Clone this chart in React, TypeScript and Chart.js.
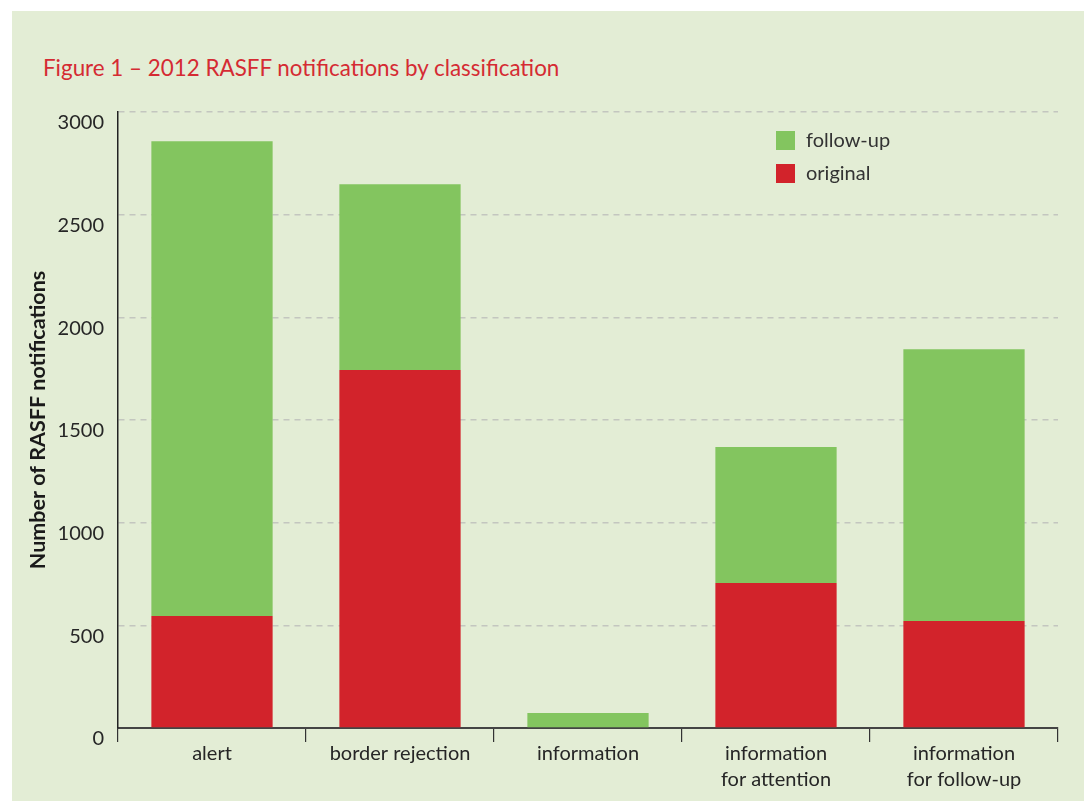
import React, { useEffect, useRef } from "react";
import { Chart, registerables } from "chart.js";

Chart.register(...registerables);

const titleText = "Figure 1 – 2012 RASFF notifications by classification";
const yAxisTitle = "Number of RASFF notifications";
const categories: (string | string[])[] = [
  "alert",
  "border rejection",
  "information",
  ["information", "for attention"],
  ["information", "for follow-up"],
];
const originalValues = [545, 1743, 0, 706, 521];
const followUpValues = [2313, 905, 73, 662, 1324];
const yMin = 0;
const yMax = 3000;
const yStep = 500;

const GREEN = "#83c55f";
const RED = "#d2232b";
const TEXT = "#262626";
const FONT = "Lato, 'Open Sans', sans-serif";

const legendPlugin = {
  id: "insideLegend",
  afterDatasetsDraw(chart: any) {
    const { ctx, chartArea } = chart;
    const items = chart.data.datasets.slice().reverse();
    const x0 = chartArea.right - 282;
    const y0 = chartArea.top + 19;
    ctx.save();
    ctx.font = `20px ${FONT}`;
    ctx.textBaseline = "middle";
    ctx.textAlign = "left";
    items.forEach((ds: any, i: number) => {
      const y = y0 + i * 33;
      ctx.fillStyle = ds.backgroundColor;
      ctx.fillRect(x0, y, 19, 19);
      ctx.fillStyle = "#333333";
      ctx.fillText(ds.label, x0 + 30, y + 10);
    });
    ctx.restore();
  },
};

export default function App() {
  const ref = useRef<HTMLCanvasElement | null>(null);

  useEffect(() => {
    if (!ref.current) return;
    const chart = new Chart(ref.current, {
      type: "bar",
      data: {
        labels: categories,
        datasets: [
          {
            label: "original",
            data: originalValues,
            backgroundColor: RED,
            borderWidth: 0,
          },
          {
            label: "follow-up",
            data: followUpValues,
            backgroundColor: GREEN,
            borderWidth: 0,
          },
        ],
      },
      options: {
        animation: false,
        responsive: false,
        maintainAspectRatio: false,
        datasets: {
          bar: { barPercentage: 0.645, categoryPercentage: 1 },
        },
        layout: { padding: { left: 0, right: 26, top: 101, bottom: 0 } },
        plugins: {
          legend: { display: false },
          tooltip: { enabled: false },
          title: { display: false },
        },
        scales: {
          x: {
            stacked: true,
            offset: true,
            grid: {
              display: true,
              drawOnChartArea: false,
              drawTicks: true,
              tickLength: 14,
              color: "#333333",
              lineWidth: 1.2,
              offset: true,
            },
            border: { display: true, color: "#444444", width: 2 },
            ticks: {
              color: TEXT,
              font: { family: FONT, size: 20, lineHeight: 1.3 },
              padding: -1,
              maxRotation: 0,
              autoSkip: false,
            },
            afterFit: (scale: any) => {
              scale.height = 73;
            },
          },
          y: {
            stacked: true,
            min: yMin,
            max: yMax,
            ticks: {
              stepSize: yStep,
              color: TEXT,
              padding: 14,
              labelOffset: 11,
              font: { family: FONT, size: 20 },
              callback: (v: any) => String(v),
            },
            grid: {
              drawTicks: false,
              color: "#c3c6bf",
              lineWidth: 1.5,
            },
            border: { display: true, color: "#222222", width: 1.5, dash: [6, 5] },
            title: {
              display: true,
              text: yAxisTitle,
              color: "#1a1a1a",
              font: { family: FONT, size: 21.5, weight: "bold", lineHeight: 1.2 },
              padding: { top: 13, bottom: 0 },
            },
            afterFit: (scale: any) => {
              scale.width = 106;
            },
          },
        },
      },
      plugins: [legendPlugin],
    } as any);
    return () => chart.destroy();
  }, []);

  return (
    <div
      style={{
        position: "absolute",
        left: 12,
        top: 11,
        width: 1072,
        height: 790,
        background: "#e3edd5",
      }}
    >
      <div
        style={{
          position: "absolute",
          left: 31,
          top: 44,
          fontFamily: FONT,
          fontSize: 22.4,
          lineHeight: "26px",
          color: "#d52b33",
          whiteSpace: "nowrap",
        }}
      >
        {titleText}
      </div>
      <canvas
        ref={ref}
        width={1072}
        height={790}
        style={{ position: "absolute", left: 0, top: 0, width: 1072, height: 790 }}
      />
    </div>
  );
}
